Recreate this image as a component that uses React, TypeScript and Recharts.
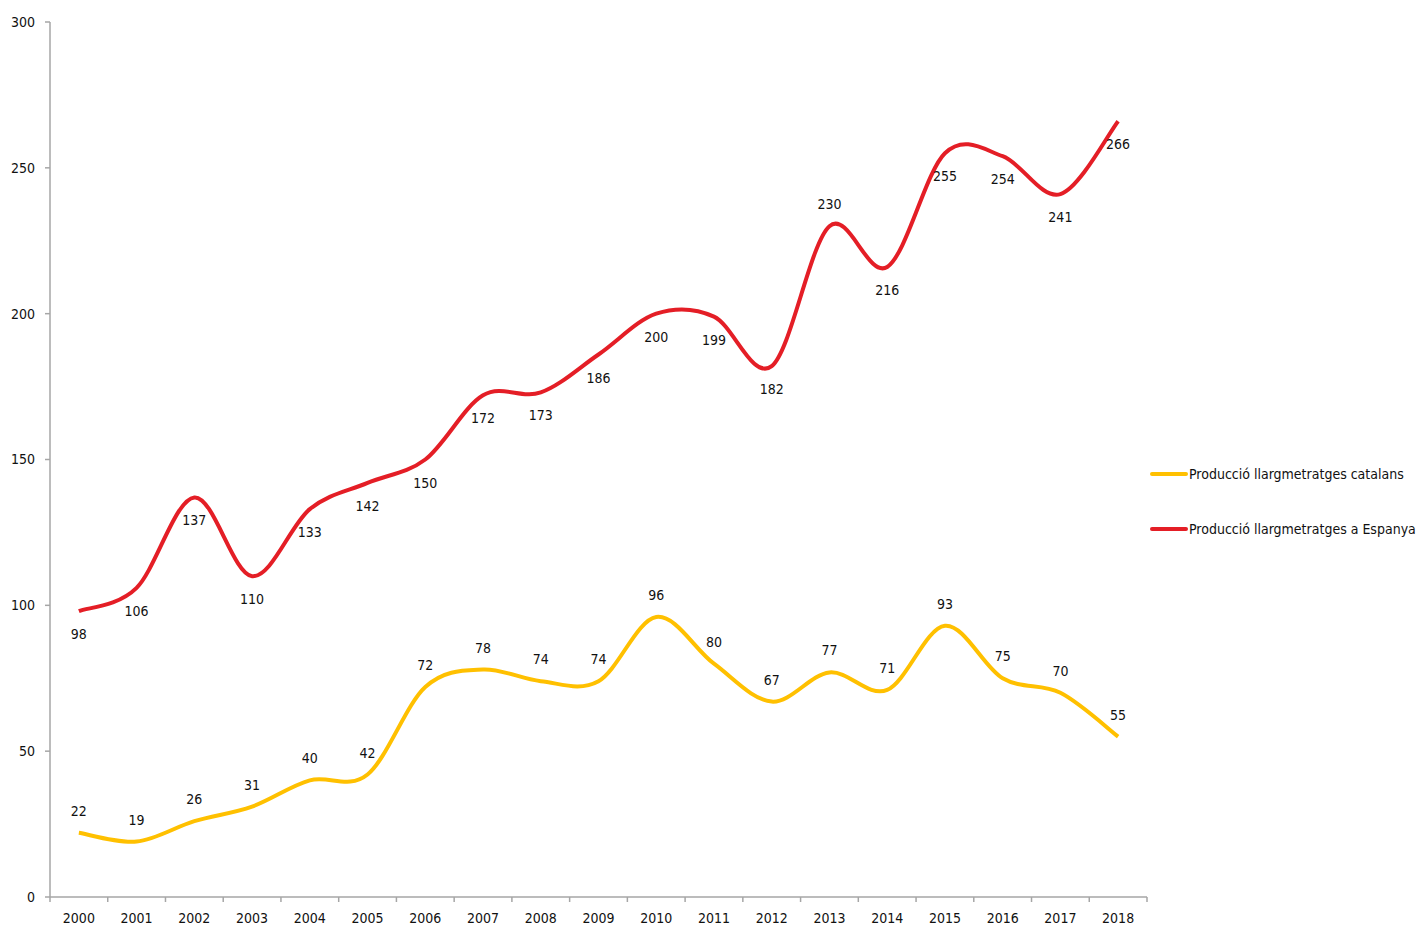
import { LineChart, Line, XAxis, YAxis, Legend, LabelList } from 'recharts'

const years = ['2000', '2001', '2002', '2003', '2004', '2005', '2006', '2007', '2008', '2009', '2010', '2011', '2012', '2013', '2014', '2015', '2016', '2017', '2018']
const catalans = [22, 19, 26, 31, 40, 42, 72, 78, 74, 74, 96, 80, 67, 77, 71, 93, 75, 70, 55]
const espanya = [98, 106, 137, 110, 133, 142, 150, 172, 173, 186, 200, 199, 182, 230, 216, 255, 254, 241, 266]
const yTicks = [0, 50, 100, 150, 200, 250, 300]
// red labels go below the line, except these years
const espAbove = ['2013']

const FONT = "'Liberation Sans Narrow', 'DejaVu Sans Condensed', Arial, sans-serif"
const YELLOW = '#ffc000'
const RED = '#e41e26'
const AXIS = '#a6a6a6'

const data = years.map((y, i) => ({ idx: i, year: y, cat: catalans[i], esp: espanya[i] }))
const xTicks: number[] = []
for (let i = -0.5; i <= years.length - 0.5; i += 0.5) xTicks.push(i)

// excel style smoothing (catmull-rom through the points)
function excelCurve(context: any) {
  let pts: number[][] = []
  return {
    areaStart() {},
    areaEnd() {},
    lineStart() { pts = [] },
    lineEnd() {
      if (!pts.length) return
      context.moveTo(pts[0][0], pts[0][1])
      for (let i = 0; i < pts.length - 1; i++) {
        const p0 = pts[i - 1] || pts[i]
        const p1 = pts[i]
        const p2 = pts[i + 1]
        const p3 = pts[i + 2] || p2
        context.bezierCurveTo(
          p1[0] + (p2[0] - p0[0]) / 6, p1[1] + (p2[1] - p0[1]) / 6,
          p2[0] - (p3[0] - p1[0]) / 6, p2[1] - (p3[1] - p1[1]) / 6,
          p2[0], p2[1],
        )
      }
    },
    point(x: number, y: number) { pts.push([+x, +y]) },
  }
}

function XTick(props: any) {
  const { x, y, payload } = props
  const v = payload.value
  if (Math.abs(v - Math.round(v)) > 0.01) {
    return <line x1={x} x2={x} y1={y} y2={y + 5} stroke={AXIS} strokeWidth={1.5} />
  }
  return (
    <text x={x} y={y + 26} textAnchor="middle" fontSize={14} fill="#111" fontFamily={FONT}>
      {years[Math.round(v)]}
    </text>
  )
}

function makeLabel(series: 'cat' | 'esp') {
  return (props: any) => {
    const { x, y, value, index } = props
    let below = series === 'esp'
    if (series === 'esp' && espAbove.includes(years[index])) below = false
    const ty = below ? y + 28 : y - 17
    return (
      <text x={x} y={ty} textAnchor="middle" fontSize={14} fill="#111" fontFamily={FONT}>
        {value}
      </text>
    )
  }
}

function LegendBox() {
  const items = [
    { label: 'Producció llargmetratges catalans', color: YELLOW },
    { label: 'Producció llargmetratges a Espanya', color: RED },
  ]
  return (
    <div style={{ fontFamily: FONT, fontSize: 14, color: '#111' }}>
      {items.map((it) => (
        <div key={it.label} style={{ display: 'flex', alignItems: 'center', height: 55 }}>
          <span style={{ display: 'inline-block', flexShrink: 0, width: 38, height: 4, borderRadius: 2, background: it.color }} />
          <span style={{ marginLeft: 1, whiteSpace: 'nowrap' }}>{it.label}</span>
        </div>
      ))}
    </div>
  )
}

export default function App() {
  return (
    <div style={{ position: 'absolute', left: 0, top: 0, background: '#fff' }}>
      <LineChart width={1421} height={927} data={data} margin={{ top: 22, right: 274, bottom: 0, left: 0 }}>
        <XAxis
          dataKey="idx"
          type="number"
          domain={[-0.5, years.length - 0.5]}
          ticks={xTicks}
          interval={0}
          tick={<XTick />}
          tickLine={false}
          tickSize={0}
          tickMargin={0}
          height={30}
          axisLine={{ stroke: AXIS, strokeWidth: 1.5 }}
          allowDataOverflow
        />
        <YAxis
          domain={[0, 300]}
          ticks={yTicks}
          width={50}
          tickSize={5}
          tickMargin={10}
          tick={{ fontSize: 14, fill: '#111', fontFamily: FONT }}
          tickLine={{ stroke: AXIS, strokeWidth: 1.5 }}
          axisLine={{ stroke: AXIS, strokeWidth: 1.5 }}
        />
        <Legend
          layout="vertical"
          align="center"
          verticalAlign="middle"
          wrapperStyle={{ left: 1150, top: 446, width: 271 }}
          content={() => <LegendBox />}
        />
        <Line
          dataKey="cat"
          type={excelCurve as any}
          stroke={YELLOW}
          strokeWidth={4}
          dot={false}
          activeDot={false}
          isAnimationActive={false}
        >
          <LabelList dataKey="cat" content={makeLabel('cat')} />
        </Line>
        <Line
          dataKey="esp"
          type={excelCurve as any}
          stroke={RED}
          strokeWidth={4}
          dot={false}
          activeDot={false}
          isAnimationActive={false}
        >
          <LabelList dataKey="esp" content={makeLabel('esp')} />
        </Line>
      </LineChart>
    </div>
  )
}
